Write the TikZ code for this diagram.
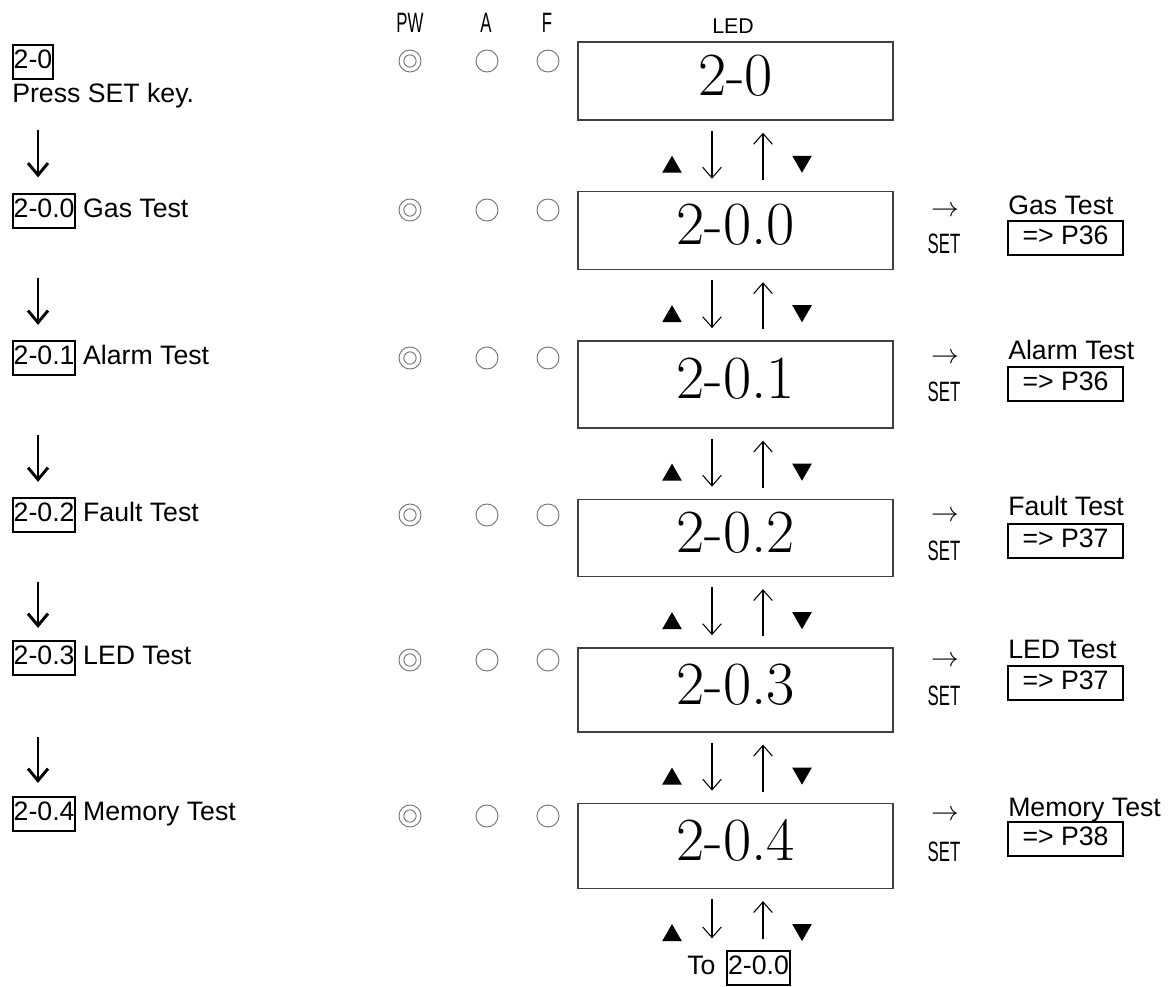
\documentclass[tikz,border=0pt]{standalone}
\usepackage{fontspec}
\usepackage{graphicx}
\usepackage{tikz}
\usetikzlibrary{arrows.meta, positioning, calc, shapes.geometric}
\newfontfamily\arial{Liberation Sans}
\newcommand{\gothic}[1]{\scalebox{0.6}[1]{\arial\fontsize{21}{24}\selectfont #1}}

\begin{document}
\begin{tikzpicture}[x=0.75pt, y=-0.75pt,
        txt/.style={font=\arial\fontsize{20}{24}\selectfont, inner sep=0pt, text height=15pt, text depth=5pt},
        codebox/.style={txt, draw, line width=1.4pt, inner xsep=0.6pt, inner ysep=2.5pt},
        pagebox/.style={txt, draw, line width=1.4pt, minimum width=86pt, inner ysep=2.5pt},
        ledbox/.style={draw=black!75, line width=1.1pt, minimum width=236.25pt, inner sep=0pt, font=\fontsize{46}{52}\selectfont, text depth=9pt},
        lamp/.style={circle, draw=black!55, line width=0.7pt, minimum size=16.5pt, inner sep=0pt},
        pwlamp/.style={lamp, path picture={\draw[black!55, line width=0.7pt] (path picture bounding box.center) circle[radius=4.6pt];}},
        upmark/.style={regular polygon, regular polygon sides=3, fill, inner sep=0pt, minimum size=17pt},
        downmark/.style={upmark, shape border rotate=180},
        flow/.style={-{Straight Barb[length=9pt,width=15pt]}, line width=2.2pt},
        keyarrow/.style={-{Straight Barb[length=8pt,width=14pt]}, line width=0.8pt}]
        \useasboundingbox (0,0) rectangle (1168,987);

        % header
        \node (pwh) at (410,23) {\gothic{PW}};
        \node (ah) at (486,23) {\gothic{A}};
        \node (fh) at (547,23) {\gothic{F}};
        \node[font=\arial\fontsize{16}{18}\selectfont] (ledh) at (733,26) {LED};

        % LED display
        \node[ledbox, minimum height=58.5pt] (led0) at (735.5,81) {2-0};
        \node[ledbox, minimum height=58.5pt, below=52.5pt of led0] (led1) {2-0.0};
        \node[ledbox, minimum height=65.25pt, below=52.5pt of led1] (led2) {2-0.1};
        \node[ledbox, minimum height=57.75pt, below=52.5pt of led2] (led3) {2-0.2};
        \node[ledbox, minimum height=63pt, below=52.5pt of led3] (led4) {2-0.3};
        \node[ledbox, minimum height=63.75pt, below=52.5pt of led4] (led5) {2-0.4};

        % lamps
        \node[pwlamp] (pw0) at (410,61) {};
        \node[lamp] (a0) at (487,61) {};
        \node[lamp] (f0) at (548,61) {};
        \node[pwlamp] (pw1) at (410,210) {};
        \node[lamp] (a1) at (487,210) {};
        \node[lamp] (f1) at (548,210) {};
        \node[pwlamp] (pw2) at (410,358) {};
        \node[lamp] (a2) at (487,358) {};
        \node[lamp] (f2) at (548,358) {};
        \node[pwlamp] (pw3) at (410,515) {};
        \node[lamp] (a3) at (487,515) {};
        \node[lamp] (f3) at (548,515) {};
        \node[pwlamp] (pw4) at (410,660) {};
        \node[lamp] (a4) at (487,660) {};
        \node[lamp] (f4) at (548,660) {};
        \node[pwlamp] (pw5) at (410,816) {};
        \node[lamp] (a5) at (487,816) {};
        \node[lamp] (f5) at (548,816) {};

        % left column
        \node[codebox, anchor=west] (c0) at (12,62) {2-0};
        \node[txt, anchor=west] (p0) at (12,96) {Press SET key.};
        \node[codebox, anchor=west] (c1) at (12,211) {2-0.0};
        \node[txt, right=5pt of c1] (t1) {Gas Test};
        \node[codebox, anchor=west] (c2) at (12,358) {2-0.1};
        \node[txt, right=5pt of c2] (t2) {Alarm Test};
        \node[codebox, anchor=west] (c3) at (12,515) {2-0.2};
        \node[txt, right=5pt of c3] (t3) {Fault Test};
        \node[codebox, anchor=west] (c4) at (12,658) {2-0.3};
        \node[txt, right=5pt of c4] (t4) {LED Test};
        \node[codebox, anchor=west] (c5) at (12,814) {2-0.4};
        \node[txt, right=5pt of c5] (t5) {Memory Test};

        \coordinate (ax) at (38,0);
        \draw[flow] ($(p0.south -| ax)+(0,20)$) -- ($(c1.north -| ax)+(0,-16)$);
        \draw[flow] ($(c1.south -| ax)+(0,49.5)$) -- ($(c2.north -| ax)+(0,-15.5)$);
        \draw[flow] ($(c2.south -| ax)+(0,59.5)$) -- ($(c3.north -| ax)+(0,-15.5)$);
        \draw[flow] ($(c3.south -| ax)+(0,49.5)$) -- ($(c4.north -| ax)+(0,-12.5)$);
        \draw[flow] ($(c4.south -| ax)+(0,61.5)$) -- ($(c5.north -| ax)+(0,-13.5)$);

        % keys between displays
        \draw[keyarrow] ($(led0.south)+(-23.5,10)$) -- ($(led1.north)+(-23.5,-12)$);
        \draw[keyarrow] ($(led1.north)+(27.5,-11)$) -- ($(led0.south)+(27.5,12)$);
        \node[upmark] (u0) at ($(led0.south)+(-63.5,46.3)$) {};
        \node[downmark] (d0) at ($(led0.south)+(66.5,40.7)$) {};
        \draw[keyarrow] ($(led1.south)+(-23.5,10)$) -- ($(led2.north)+(-23.5,-12)$);
        \draw[keyarrow] ($(led2.north)+(27.5,-11)$) -- ($(led1.south)+(27.5,12)$);
        \node[upmark] (u1) at ($(led1.south)+(-63.5,46.3)$) {};
        \node[downmark] (d1) at ($(led1.south)+(66.5,40.7)$) {};
        \draw[keyarrow] ($(led2.south)+(-23.5,10)$) -- ($(led3.north)+(-23.5,-12)$);
        \draw[keyarrow] ($(led3.north)+(27.5,-11)$) -- ($(led2.south)+(27.5,12)$);
        \node[upmark] (u2) at ($(led2.south)+(-63.5,46.3)$) {};
        \node[downmark] (d2) at ($(led2.south)+(66.5,40.7)$) {};
        \draw[keyarrow] ($(led3.south)+(-23.5,10)$) -- ($(led4.north)+(-23.5,-12)$);
        \draw[keyarrow] ($(led4.north)+(27.5,-11)$) -- ($(led3.south)+(27.5,12)$);
        \node[upmark] (u3) at ($(led3.south)+(-63.5,46.3)$) {};
        \node[downmark] (d3) at ($(led3.south)+(66.5,40.7)$) {};
        \draw[keyarrow] ($(led4.south)+(-23.5,10)$) -- ($(led5.north)+(-23.5,-12)$);
        \draw[keyarrow] ($(led5.north)+(27.5,-11)$) -- ($(led4.south)+(27.5,12)$);
        \node[upmark] (u4) at ($(led4.south)+(-63.5,46.3)$) {};
        \node[downmark] (d4) at ($(led4.south)+(66.5,40.7)$) {};

        % back to the first test
        \node[txt, anchor=west] (to) at (687,968) {To};
        \node[codebox, right=8pt of to] (c6) {2-0.0};
        \draw[keyarrow] ($(led5.south)+(-23.5,10)$) -- ($(led5.south |- c6.north)+(-23.5,-12)$);
        \draw[keyarrow] ($(led5.south |- c6.north)+(27.5,-11)$) -- ($(led5.south)+(27.5,12)$);
        \node[upmark] (u5) at ($(led5.south)+(-63.5,46.3)$) {};
        \node[downmark] (d5) at ($(led5.south)+(66.5,40.7)$) {};

        % SET key targets
        \node[txt] (s1) at (945,210) {$\rightarrow$};
        \node (k1) at (944,244) {\gothic{SET}};
        \node[txt, anchor=west] (n1) at (1008,208) {Gas Test};
        \node[pagebox] (g1) at (1065.5,238) {=> P36};
        \node[txt] (s2) at (945,357) {$\rightarrow$};
        \node (k2) at (944,392) {\gothic{SET}};
        \node[txt, anchor=west] (n2) at (1008,353) {Alarm Test};
        \node[pagebox] (g2) at (1065.5,384) {=> P36};
        \node[txt] (s3) at (945,515) {$\rightarrow$};
        \node (k3) at (944,551) {\gothic{SET}};
        \node[txt, anchor=west] (n3) at (1008,509) {Fault Test};
        \node[pagebox] (g3) at (1065.5,541) {=> P37};
        \node[txt] (s4) at (945,660) {$\rightarrow$};
        \node (k4) at (944,696) {\gothic{SET}};
        \node[txt, anchor=west] (n4) at (1008,652) {LED Test};
        \node[pagebox] (g4) at (1065.5,683) {=> P37};
        \node[txt] (s5) at (945,814) {$\rightarrow$};
        \node (k5) at (944,852) {\gothic{SET}};
        \node[txt, anchor=west] (n5) at (1008,810) {Memory Test};
        \node[pagebox] (g5) at (1065.5,839) {=> P38};
\end{tikzpicture}
\end{document}
